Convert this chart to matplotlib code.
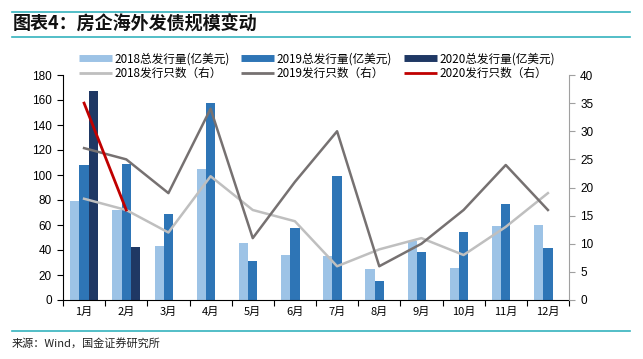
import matplotlib
matplotlib.use("Agg")
import matplotlib.pyplot as plt
from matplotlib.lines import Line2D
import numpy as np

plt.rcParams['font.family'] = ['Noto Sans CJK SC', 'DejaVu Sans']

months = ['1月', '2月', '3月', '4月', '5月', '6月', '7月', '8月', '9月', '10月', '11月', '12月']
amt_2018 = [79, 72, 43, 105, 46, 36, 35, 24.5, 47, 26, 59, 60]
amt_2019 = [108, 108.5, 69, 158, 31.5, 58, 99, 15.5, 38.5, 54.5, 77, 42]
amt_2020 = [167.5, 42.5]
cnt_2018 = [18, 16, 12, 22, 16, 14, 6, 9, 11, 8, 13, 19]
cnt_2019 = [27, 25, 19, 34, 11, 21, 30, 6, 10, 16, 24, 16]
cnt_2020 = [35, 16]

c18, c19, c20 = '#9DC3E6', '#2E75B6', '#1F3864'
l18, l19, l20 = '#BFBFBF', '#767171', '#C00000'
teal = '#35B3BE'

W, H = 643, 359
fig = plt.figure(figsize=(W / 100, H / 100), dpi=100)
ax = fig.add_axes([63 / W, 1 - 300 / H, 506 / W, 225 / H])
ax2 = ax.twinx()

x = np.arange(len(months)) + 0.5
bw = 0.22
ax.bar(x - bw, amt_2018, bw, color=c18, zorder=2)
ax.bar(x, amt_2019, bw, color=c19, zorder=2)
ax.bar(x[:len(amt_2020)] + bw, amt_2020, bw, color=c20, zorder=2)

ax2.plot(x, cnt_2018, color=l18, lw=1.8, zorder=3)
ax2.plot(x, cnt_2019, color=l19, lw=1.8, zorder=3)
ax2.plot(x[:len(cnt_2020)], cnt_2020, color=l20, lw=2, zorder=4)

ax.set_xlim(0, 12)
ax.set_ylim(0, 180)
ax.set_yticks(np.arange(0, 181, 20))
ax2.set_ylim(0, 40)
ax2.set_yticks(np.arange(0, 41, 5))

ax.set_xticks(np.arange(0, 13), minor=False)
ax.set_xticklabels([])
ax.set_xticks(x, minor=True)
ax.set_xticklabels(months, minor=True, fontsize=8)
ax.tick_params(axis='x', which='minor', length=0, pad=5)
ax.tick_params(axis='x', which='major', length=4, direction='out', width=0.8)
ax.tick_params(axis='y', length=4, width=0.8, direction='out', pad=4)
ax2.tick_params(axis='y', length=4, width=0.8, direction='out', pad=4, colors='black')
ax2.tick_params(axis='y', color='#A0A0A0')

for lab in ax.get_yticklabels() + ax2.get_yticklabels():
    lab.set_fontfamily('Liberation Sans')
    lab.set_fontsize(8.5)

for a in (ax, ax2):
    a.spines['top'].set_visible(False)
ax.spines['right'].set_visible(False)
ax2.spines['left'].set_visible(False)
ax2.spines['bottom'].set_visible(False)
ax2.spines['right'].set_color('#A0A0A0')
ax.spines['left'].set_color('black')
ax.spines['bottom'].set_color('black')

handles = [
    Line2D([], [], color=c18, lw=5, solid_capstyle='butt'),
    Line2D([], [], color=l18, lw=2, solid_capstyle='butt'),
    Line2D([], [], color=c19, lw=5, solid_capstyle='butt'),
    Line2D([], [], color=l19, lw=2, solid_capstyle='butt'),
    Line2D([], [], color=c20, lw=5, solid_capstyle='butt'),
    Line2D([], [], color=l20, lw=2, solid_capstyle='butt'),
]
labels = ['2018总发行量(亿美元)', '2018发行只数（右）',
          '2019总发行量(亿美元)', '2019发行只数（右）',
          '2020总发行量(亿美元)', '2020发行只数（右）']
fig.legend(handles, labels, ncol=3, loc='upper left',
           bbox_to_anchor=(79 / W, 1 - 52.5 / H), frameon=False,
           fontsize=8.4, handlelength=2.83, handletextpad=0.2,
           columnspacing=1.0, labelspacing=0.1, borderpad=0, borderaxespad=0)

fig.text(13 / W, 1 - 24 / H, '图表4：房企海外发债规模变动', fontsize=13,
         fontweight='bold', va='center', ha='left', color='#111111')
fig.add_artist(Line2D([12 / W, 630 / W], [1 - 11.5 / H, 1 - 11.5 / H], color=teal, lw=1.2))
fig.add_artist(Line2D([12 / W, 630 / W], [1 - 37 / H, 1 - 37 / H], color=teal, lw=1.2))
fig.add_artist(Line2D([12 / W, 630 / W], [1 - 331 / H, 1 - 331 / H], color=teal, lw=1.2))
fig.text(12 / W, 1 - 343 / H, '来源：Wind，国金证券研究所', fontsize=8,
         va='center', ha='left', color='#222222')

fig.savefig('out.png', dpi=100)
